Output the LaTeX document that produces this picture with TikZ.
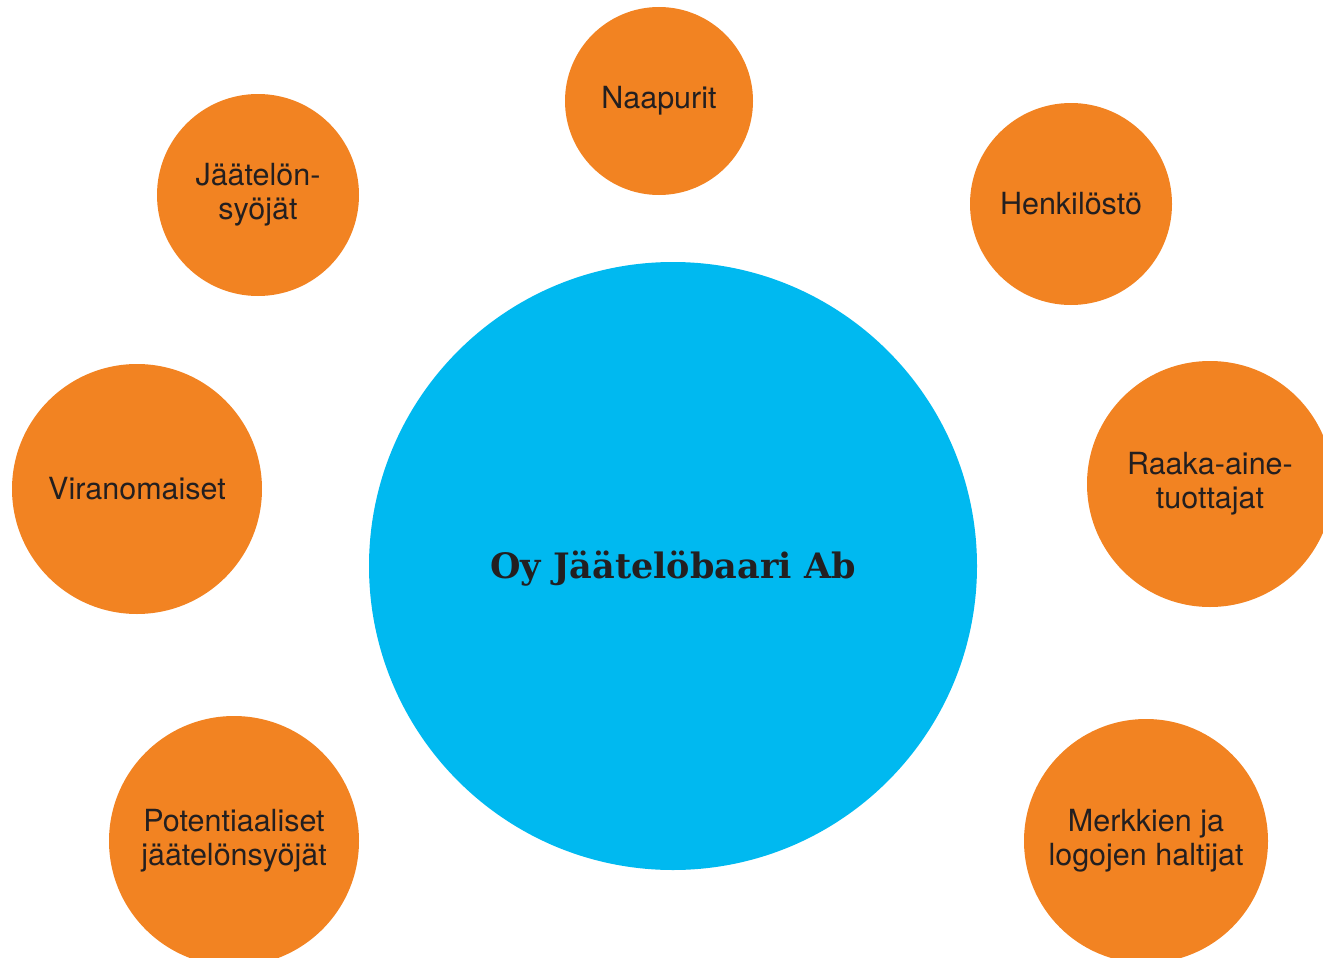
\documentclass[tikz,border=0pt]{standalone}
\usepackage{fontspec}
\setmainfont{TeX Gyre Heros}
\newfontfamily\slabfont{DejaVu Serif}
\definecolor{orng}{HTML}{F28322}
\definecolor{skyb}{HTML}{00B9F0}
\definecolor{txt}{HTML}{231F20}
\tikzset{
  stake/.style={circle, fill=orng, draw=none, inner sep=0pt, text=txt, align=center,
    font=\fontsize{30.5}{34}\selectfont},
  core/.style={circle, fill=skyb, draw=none, inner sep=0pt, text=txt,
    font=\slabfont\bfseries\fontsize{35}{40}\selectfont}
}
\begin{document}
\begin{tikzpicture}[x=1pt,y=-1pt]
\useasboundingbox (0,0) rectangle (1323,958);
\begin{scope}
\clip (0,0) rectangle (1323,958);
\node[core, minimum size=608pt] (c) at (673,566) {};
\node[text=txt, font=\slabfont\bfseries\fontsize{35}{40}\selectfont] (ct) at (673,569) {Oy Jäätelöbaari Ab};
\node[stake, minimum size=188pt] (n1) at (659,101) {Naapurit};
\node[stake, minimum size=202pt] (n2) at (258,195) {Jäätelön-\\syöjät};
\node[stake, minimum size=202pt] (n3) at (1071,204) {Henkilöstö};
\node[stake, minimum size=250pt] (n4) at (137,489) {Viranomaiset};
\node[stake, minimum size=246pt] (n5) at (1210,484) {Raaka-aine-\\tuottajat};
\node[stake, minimum size=250pt] (n6) at (234,841) {Potentiaaliset\\jäätelönsyöjät};
\node[stake, minimum size=244pt] (n7) at (1146,841) {Merkkien ja\\logojen haltijat};
\end{scope}
\end{tikzpicture}
\end{document}
